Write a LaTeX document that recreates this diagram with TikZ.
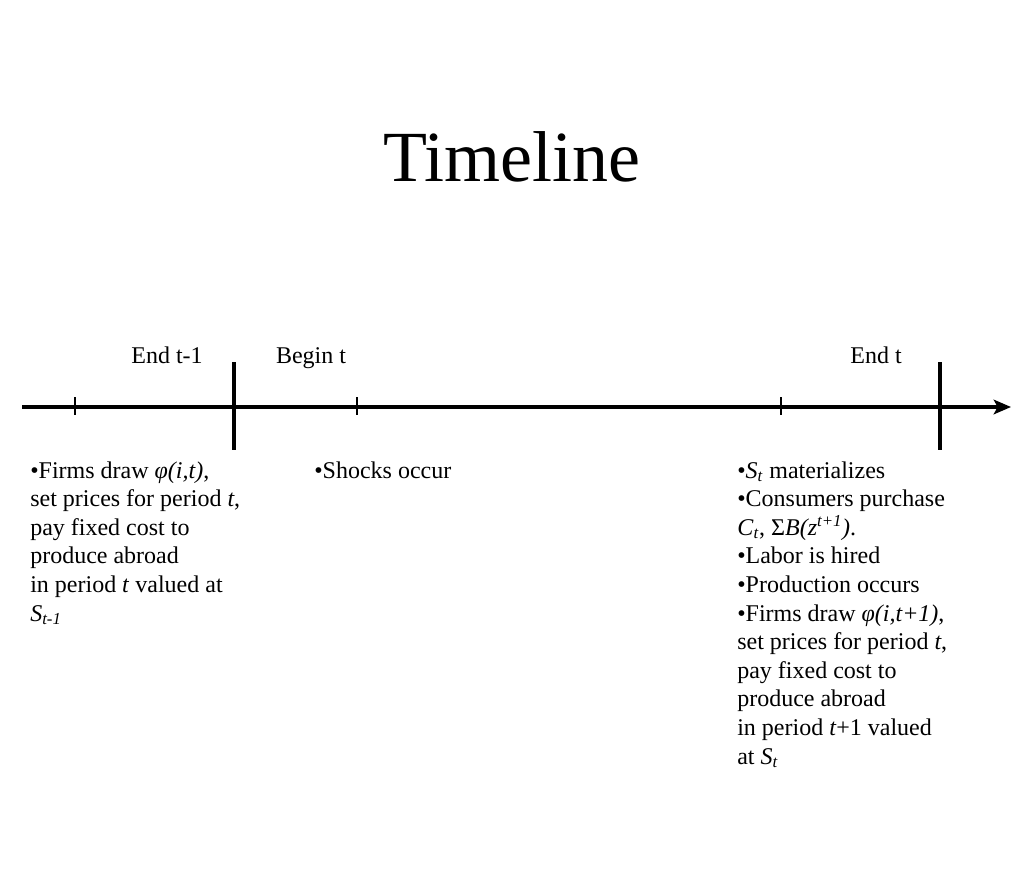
\documentclass[tikz,border=0pt]{standalone}
\usepackage{fontspec}
\setmainfont{Liberation Serif}
\usetikzlibrary{arrows.meta}
\tikzset{
  lbl/.style={font=\fontsize{18}{21.5}\selectfont, inner sep=0pt, anchor=base},
  blk/.style={font=\fontsize{18}{21.45}\selectfont, inner sep=0pt, anchor=base west, align=left},
  axis/.style={line width=2.3pt, -{Stealth[length=13pt,width=11pt,inset=3pt]}},
  bigtick/.style={line width=3pt},
  smalltick/.style={line width=1.1pt}
}
\begin{document}
\begin{tikzpicture}[x=0.75pt,y=-0.75pt]
\useasboundingbox (0,0) rectangle (1024,882);
\node[inner sep=0pt, anchor=base, font=\fontsize{54}{60}\selectfont] (title) at (512,181) {Timeline};
% axis
\coordinate (axL) at (22,407);
\coordinate (axR) at (1011,407);
\draw[axis] (axL) -- (axR);
% big ticks
\coordinate (b1t) at (234,362); \coordinate (b1b) at (234,450);
\coordinate (b2t) at (940,362); \coordinate (b2b) at (940,450);
\draw[bigtick] (b1t) -- (b1b);
\draw[bigtick] (b2t) -- (b2b);
% small ticks
\coordinate (s1t) at (75,397); \coordinate (s1b) at (75,415);
\coordinate (s2t) at (357,397); \coordinate (s2b) at (357,415);
\coordinate (s3t) at (781,397); \coordinate (s3b) at (781,415);
\draw[smalltick] (s1t) -- (s1b);
\draw[smalltick] (s2t) -- (s2b);
\draw[smalltick] (s3t) -- (s3b);
% labels
\node[lbl] (endprev) at (167,363) {End t-1};
\node[lbl] (begint) at (311,363) {Begin t};
\node[lbl] (endt) at (876,363) {End t};
% text blocks (anchor = baseline of last line)
\node[blk] (left) at (30,621) {•Firms draw \textit{φ(i,t)},\\
set prices for period \textit{t},\\
pay fixed cost to\\
produce abroad\\
in period \textit{t} valued at\\
\textit{S}\textsubscript{\textit{t-1}}};
\node[blk] (mid) at (314,478) {•Shocks occur};
\node[blk] (right) at (737,764) {•\textit{S}\textsubscript{\textit{t}} materializes\\
•Consumers purchase\\
\textit{C}\textsubscript{\textit{t}}, Σ\textit{B(z}\textsuperscript{\textit{t+1}}\textit{)}.\\
•Labor is hired\\
•Production occurs\\
•Firms draw \textit{φ(i,t+1)},\\
set prices for period \textit{t},\\
pay fixed cost to\\
produce abroad\\
in period \textit{t}+1 valued\\
at \textit{S}\textsubscript{\textit{t}}};
\end{tikzpicture}
\end{document}
